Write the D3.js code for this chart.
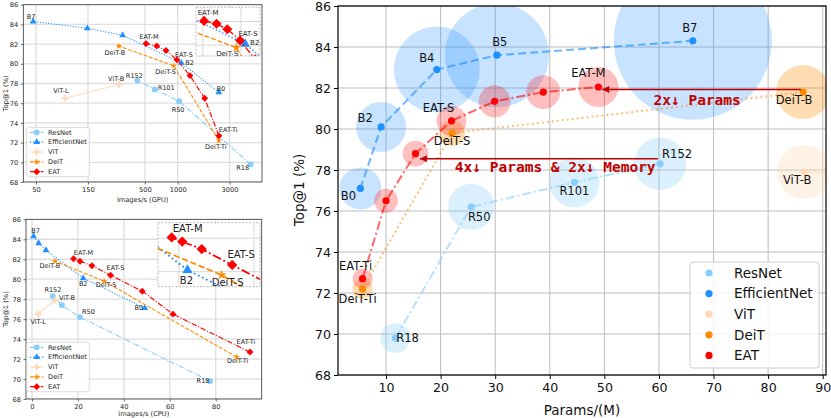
<!DOCTYPE html>
<html>
<head>
<meta charset="utf-8">
<script src="https://cdn.jsdelivr.net/npm/d3@7"></script>
<style>
  body { margin: 0; background: #fff; }
  svg { display: block; font-family: "DejaVu Sans", sans-serif; }
</style>
</head>
<body>
<svg id="chart" width="831" height="418"></svg>
<script>
// ---- data ----
const familyNames = ["ResNet", "EfficientNet", "ViT", "DeiT", "EAT"];

const resnetModels = ["R18", "R50", "R101", "R152"];
const resnetParams = [11.7, 25.6, 44.5, 60.2];
const resnetGpu = [4680, 1030, 615, 426];
const resnetCpu = [77.5, 20.9, 13.0, 9.1];
const resnetTop1 = [69.8, 76.2, 77.4, 78.3];
const resnetBubble = [3.5, 8.3, 9.8, 10.6];

const effnetModels = ["B0", "B2", "B4", "B5", "B7"];
const effnetParams = [5.3, 9.1, 19.3, 30.3, 66.2];
const effnetGpu = [2390, 1079, 312, 148, 47];
const effnetCpu = [49.1, 22.3, 6.1, 2.9, 0.7];
const effnetTop1 = [77.1, 80.1, 82.9, 83.6, 84.3];
const effnetBubble = [6.9, 9.8, 28.9, 42.3, 97.5];

const vitModels = ["ViT-B", "ViT-L"];
const vitParams = [86.6, 304];
const vitGpu = [290, 92];
const vitCpu = [10.0, 2.7];
const vitTop1 = [77.9, 76.5];
const vitBubble = [11.4, 40];

const deitModels = ["DeiT-Ti", "DeiT-S", "DeiT-B"];
const deitParams = [5.7, 22.1, 86.4];
const deitGpu = [2390, 919, 288];
const deitCpu = [89.1, 31.4, 10.0];
const deitTop1 = [72.2, 79.8, 81.8];
const deitBubble = [1.6, 2.6, 11.4];

const eatModels = ["EAT-Ti", "", "", "EAT-S", "", "", "EAT-M"];
const eatParams = [5.7, 10.0, 15.4, 22.0, 29.9, 38.8, 48.9];
const eatGpu = [2390, 1770, 1297, 985, 781, 642, 512];
const eatCpu = [94.9, 61.4, 48.0, 34.2, 26.1, 20.9, 18.1];
const eatTop1 = [72.7, 76.5, 78.8, 80.4, 81.35, 81.8, 82.05];
const eatBubble = [1.6, 2.25, 2.6, 3.5, 4.0, 4.5, 6.25];

const gpuTicks = [50, 150, 500, 1000, 3000];
const cpuTicks = [0, 20, 40, 60, 80];
const top1Ticks = [68, 70, 72, 74, 76, 78, 80, 82, 84, 86];
const paramTicks = [10, 20, 30, 40, 50, 60, 70, 80, 90];

// annotation arrows (data units): [x from, x to, y]
const arrowParams = [86.0, 49.6, 81.93];
const arrowMemory = [59.8, 16.2, 78.55];
const noteParams = "2x↓ Params";
const noteMemory = "4x↓ Params & 2x↓ Memory";

function buildFamily(name, models, params, gpu, cpu, top1, bubble) {
  return {
    name,
    points: models.map((m, i) => ({
      name: m, params: params[i], gpu: gpu[i], cpu: cpu[i], top1: top1[i], bubble: bubble[i]
    }))
  };
}

const families = [
  buildFamily(familyNames[0], resnetModels, resnetParams, resnetGpu, resnetCpu, resnetTop1, resnetBubble),
  buildFamily(familyNames[1], effnetModels, effnetParams, effnetGpu, effnetCpu, effnetTop1, effnetBubble),
  buildFamily(familyNames[2], vitModels, vitParams, vitGpu, vitCpu, vitTop1, vitBubble),
  buildFamily(familyNames[3], deitModels, deitParams, deitGpu, deitCpu, deitTop1, deitBubble),
  buildFamily(familyNames[4], eatModels, eatParams, eatGpu, eatCpu, eatTop1, eatBubble)
];

// ---- styles ----
const colors = {
  ResNet: "#87CEFA", EfficientNet: "#1E90FF", ViT: "#FFDAB9", DeiT: "#FF8C00", EAT: "#FF0000"
};
const smallStyle = {
  ResNet: { dash: [5, 1.5, 1, 1.5], symbol: d3.symbolCircle, rot: 0, size: 26 },
  EfficientNet: { dash: [1, 1.5], symbol: d3.symbolTriangle, rot: 0, size: 20 },
  ViT: { dash: null, symbol: d3.symbolCross, rot: 0, size: 24 },
  DeiT: { dash: [3.5, 1.5], symbol: d3.symbolStar, rot: 0, size: 14 },
  EAT: { dash: [5, 1.5, 1, 1.5], symbol: d3.symbolSquare, rot: 45, size: 24 }
};
const bigStyle = {
  ResNet: { dash: "9,3,2,3", alpha: 0.6, bubbleAlpha: 0.3 },
  EfficientNet: { dash: "8,4", alpha: 0.65, bubbleAlpha: 0.25 },
  ViT: { dash: null, alpha: 0.6, bubbleAlpha: 0.35 },
  DeiT: { dash: "2,3", alpha: 0.55, bubbleAlpha: 0.3 },
  EAT: { dash: "9,3,2,3", alpha: 0.6, bubbleAlpha: 0.25 }
};

const svg = d3.select("#chart");
const defs = svg.append("defs");

// ---- small line panels (GPU / CPU throughput) ----
function drawSmallPanel(o) {
  const [x0, x1] = o.x.range();
  const [y1, y0] = o.y.range();
  const g = svg.append("g");

  defs.append("clipPath").attr("id", o.id)
    .append("rect").attr("x", x0).attr("y", y0).attr("width", x1 - x0).attr("height", y1 - y0);

  g.append("rect").attr("x", x0).attr("y", y0).attr("width", x1 - x0).attr("height", y1 - y0)
    .attr("fill", "#fff");

  const grid = g.append("g").attr("clip-path", `url(#${o.id})`);
  o.gridX.forEach(t => {
    grid.append("line").attr("x1", o.x(t)).attr("x2", o.x(t)).attr("y1", y0).attr("y2", y1)
      .attr("stroke", o.gridColor).attr("stroke-width", o.gridWidth);
  });
  o.gridY.forEach(t => {
    grid.append("line").attr("x1", x0).attr("x2", x1).attr("y1", o.y(t)).attr("y2", o.y(t))
      .attr("stroke", o.gridColor).attr("stroke-width", o.gridWidth);
  });

  const plot = g.append("g").attr("clip-path", `url(#${o.id})`);
  families.forEach(f => {
    const st = smallStyle[f.name];
    const line = d3.line().x(d => o.x(d[o.key])).y(d => o.y(d.top1));
    plot.append("path").datum(f.points)
      .attr("fill", "none")
      .attr("stroke", colors[f.name])
      .attr("stroke-width", o.lw)
      .attr("stroke-dasharray", st.dash ? st.dash.map(v => v * o.lw).join(",") : null)
      .attr("d", line);
    plot.selectAll(null).data(f.points).enter().append("path")
      .attr("transform", d => `translate(${o.x(d[o.key])},${o.y(d.top1)}) rotate(${st.rot})`)
      .attr("d", d3.symbol(st.symbol, st.size * o.ms))
      .attr("fill", colors[f.name]);
  });

  const labels = g.append("g").style("font-size", o.fs + "px").attr("fill", "#222");
  families.forEach(f => {
    f.points.forEach(d => {
      const p = o.labelPos[d.name];
      if (!p) return;
      labels.append("text")
        .attr("x", o.x(d[o.key]) + p[0])
        .attr("y", o.y(d.top1) + p[1])
        .attr("dy", "0.35em")
        .attr("text-anchor", p[2] || "middle")
        .text(d.name);
    });
  });

  g.append("rect").attr("x", x0).attr("y", y0).attr("width", x1 - x0).attr("height", y1 - y0)
    .attr("fill", "none").attr("stroke", o.frameColor).attr("stroke-width", o.frameWidth)
    .attr("stroke-dasharray", o.frameDash);
  return g;
}

function drawSmallAxes(o) {
  const [x0, x1] = o.x.range();
  const [y1, y0] = o.y.range();
  const ax = svg.append("g").attr("transform", `translate(0,${y1})`)
    .call(d3.axisBottom(o.x).tickValues(o.ticksX).tickFormat(d3.format("d")).tickSize(2.5).tickPadding(2.5));
  const ay = svg.append("g").attr("transform", `translate(${x0},0)`)
    .call(d3.axisLeft(o.y).tickValues(top1Ticks).tickSize(2.5).tickPadding(2.5));
  [ax, ay].forEach(a => {
    a.select(".domain").remove();
    a.selectAll("text").style("font-size", "6.7px").style("font-family", "DejaVu Sans").attr("fill", "#222");
    a.selectAll("line").attr("stroke", "#333").attr("stroke-width", 0.7);
  });
  svg.append("text").attr("x", (x0 + x1) / 2).attr("y", y1 + o.labelGap).attr("text-anchor", "middle")
    .style("font-size", "6.7px").attr("fill", "#222").text(o.xLabel);
  svg.append("text").attr("transform", `translate(6,${(y0 + y1) / 2}) rotate(-90)`)
    .attr("text-anchor", "middle").attr("dy", "0.35em")
    .style("font-size", "6.7px").attr("fill", "#222").text("Top@1 (%)");
}

function drawSmallLegend(x, y) {
  const g = svg.append("g");
  g.append("rect").attr("x", x).attr("y", y).attr("width", 62.6).attr("height", 49.4).attr("rx", 2)
    .attr("fill", "#fff").attr("fill-opacity", 0.85).attr("stroke", "#ccc").attr("stroke-width", 0.7);
  families.forEach((f, i) => {
    const st = smallStyle[f.name];
    const yy = y + 5 + i * 9.85;
    g.append("line").attr("x1", x + 3.3).attr("x2", x + 16.6).attr("y1", yy).attr("y2", yy)
      .attr("stroke", colors[f.name]).attr("stroke-width", 1.2)
      .attr("stroke-dasharray", st.dash ? st.dash.map(v => v * 1.2).join(",") : null);
    g.append("path").attr("transform", `translate(${x + 10},${yy}) rotate(${st.rot})`)
      .attr("d", d3.symbol(st.symbol, st.size)).attr("fill", colors[f.name]);
    g.append("text").attr("x", x + 21.3).attr("y", yy).attr("dy", "0.35em")
      .style("font-size", "6.7px").attr("fill", "#222").text(f.name);
  });
}

// GPU panel
const gpuX = d3.scaleLog().domain([38.2, 5950]).range([23.3, 262]);
const gpuY = d3.scaleLinear().domain([68, 86]).range([182, 4.7]);
const gpuLabels = {
  B7: [-2, -5], "EAT-M": [3, -7], "DeiT-B": [-4, 7], "EAT-S": [7, -5], B2: [4, 0, "start"],
  "DeiT-S": [-8, 6], "ViT-B": [-3, -6], R152: [-3, -5], "ViT-L": [-4, -8], R101: [3, -2, "start"],
  B0: [2, -4], R50: [-1, 8], "EAT-Ti": [0, -6, "start"], "DeiT-Ti": [-3, 6], R18: [-8, 3]
};
drawSmallPanel({
  id: "clipGpu", x: gpuX, y: gpuY, key: "gpu", lw: 1.1, ms: 1, fs: 6.5, labelPos: gpuLabels,
  gridX: gpuTicks, gridY: top1Ticks, gridColor: "#dedede", gridWidth: 1.3,
  frameColor: "#333", frameWidth: 0.8, frameDash: null
});
drawSmallAxes({ x: gpuX, y: gpuY, ticksX: gpuTicks, xLabel: "images/s (GPU)", labelGap: 19.5 });
drawSmallLegend(26.7, 127.3);

// GPU zoom inset
drawSmallPanel({
  id: "clipGpuIn", x: d3.scaleLog().domain([442, 1415]).range([196, 260]),
  y: d3.scaleLinear().domain([79.08, 83.2]).range([56, 7.3]),
  key: "gpu", lw: 1.4, ms: 2.1, fs: 7,
  labelPos: { "EAT-M": [4, -8], "EAT-S": [8, -7], B2: [5, -1, "start"], "DeiT-S": [-9, 6] },
  gridX: [500, 1000], gridY: [80, 82], gridColor: "#d8d8d8", gridWidth: 1,
  frameColor: "#aaa", frameWidth: 0.8, frameDash: "2,1.5"
});

// CPU panel
const cpuX = d3.scaleLinear().domain([-2.6, 100]).range([26, 261.7]);
const cpuY = d3.scaleLinear().domain([68, 86]).range([399, 219.3]);
const cpuLabels = {
  B7: [2, -6], "DeiT-B": [-5, 4], "EAT-M": [10, -6], "EAT-S": [5, -7], B2: [0, 6],
  "DeiT-S": [2, 4], R152: [0, -6], "ViT-B": [4, -2, "start"], B0: [-6, 0], R50: [2, -5, "start"],
  "ViT-L": [0, 8], "DeiT-Ti": [1, 4], "EAT-Ti": [-4, -10], R18: [-7, 0]
};
drawSmallPanel({
  id: "clipCpu", x: cpuX, y: cpuY, key: "cpu", lw: 1.1, ms: 1, fs: 6.5, labelPos: cpuLabels,
  gridX: cpuTicks, gridY: top1Ticks, gridColor: "#dedede", gridWidth: 1.3,
  frameColor: "#333", frameWidth: 0.8, frameDash: null
});
drawSmallAxes({ x: cpuX, y: cpuY, ticksX: cpuTicks, xLabel: "images/s (CPU)", labelGap: 16.6 });
drawSmallLegend(26.7, 342.3);

// CPU zoom inset
drawSmallPanel({
  id: "clipCpuIn", x: d3.scaleLinear().domain([14.46, 41.6]).range([158, 260]),
  y: d3.scaleLinear().domain([79.1, 82.93]).range([286.7, 222.7]),
  key: "cpu", lw: 1.8, ms: 2.2, fs: 10,
  labelPos: { "EAT-M": [16, -9], "EAT-S": [9, -10], B2: [-1, 11], "DeiT-S": [6, 7] },
  gridX: [20, 40], gridY: [80, 82], gridColor: "#d8d8d8", gridWidth: 1,
  frameColor: "#aaa", frameWidth: 0.8, frameDash: "2,1.5"
});

// ---- right bubble panel (params) ----
const px = d3.scaleLinear().domain([1.2, 90.6]).range([338, 826]);
const py = d3.scaleLinear().domain([68, 86]).range([375, 6]);
const rScale = d3.scaleSqrt().domain([0, 100]).range([0, 80]);

defs.append("clipPath").attr("id", "clipBig")
  .append("rect").attr("x", 338).attr("y", 6).attr("width", 488).attr("height", 369);

const big = svg.append("g");
const bigGrid = big.append("g");
paramTicks.forEach(t => {
  bigGrid.append("line").attr("x1", px(t)).attr("x2", px(t)).attr("y1", 6).attr("y2", 375)
    .attr("stroke", "#bdbdbd").attr("stroke-width", 1);
});
top1Ticks.forEach(t => {
  bigGrid.append("line").attr("x1", 338).attr("x2", 826).attr("y1", py(t)).attr("y2", py(t))
    .attr("stroke", "#bdbdbd").attr("stroke-width", 1);
});

const bigPlot = big.append("g").attr("clip-path", "url(#clipBig)");
families.forEach(f => {
  bigPlot.selectAll(null).data(f.points).enter().append("circle")
    .attr("cx", d => px(d.params)).attr("cy", d => py(d.top1)).attr("r", d => rScale(d.bubble))
    .attr("fill", colors[f.name]).attr("fill-opacity", bigStyle[f.name].bubbleAlpha);
});
families.forEach(f => {
  const st = bigStyle[f.name];
  bigPlot.append("path").datum(f.points)
    .attr("fill", "none").attr("stroke", colors[f.name]).attr("stroke-opacity", st.alpha)
    .attr("stroke-width", 2).attr("stroke-dasharray", st.dash)
    .attr("d", d3.line().x(d => px(d.params)).y(d => py(d.top1)));
});
families.forEach(f => {
  bigPlot.selectAll(null).data(f.points).enter().append("circle")
    .attr("cx", d => px(d.params)).attr("cy", d => py(d.top1)).attr("r", 3.6)
    .attr("fill", colors[f.name]);
});

const bigLabels = {
  B7: [-3, -13], B5: [3, -13], B4: [-10, -12], B2: [-16, -9], B0: [-12, 8],
  "EAT-S": [-13, -13], "DeiT-S": [0, 8], "EAT-M": [-10, -14], "DeiT-B": [-9, 8],
  R152: [17, -10], R101: [0, 9], "ViT-B": [-7, 8], R50: [8, 10], "EAT-Ti": [-7, -13],
  "DeiT-Ti": [-5, 10], R18: [1, 0, "start"]
};
const bigText = big.append("g").style("font-size", "11.5px").attr("fill", "#111");
families.forEach(f => {
  f.points.forEach(d => {
    const p = bigLabels[d.name];
    if (!p) return;
    bigText.append("text")
      .attr("x", px(d.params) + p[0]).attr("y", py(d.top1) + p[1]).attr("dy", "0.35em")
      .attr("text-anchor", p[2] || "middle").text(d.name);
  });
});

// arrows + notes
const noteColor = "#c00000";
defs.append("marker").attr("id", "arrowHead").attr("viewBox", "0 0 10 10")
  .attr("refX", 10).attr("refY", 5).attr("markerUnits", "userSpaceOnUse")
  .attr("markerWidth", 9).attr("markerHeight", 7).attr("orient", "auto")
  .append("path").attr("d", "M0,0 L10,5 L0,10 z").attr("fill", noteColor);

[arrowParams, arrowMemory].forEach(a => {
  big.append("line")
    .attr("x1", px(a[0])).attr("x2", px(a[1])).attr("y1", py(a[2])).attr("y2", py(a[2]))
    .attr("stroke", noteColor).attr("stroke-width", 1.5).attr("marker-end", "url(#arrowHead)");
});
big.append("text").attr("x", px(59.0)).attr("y", py(81.15))
  .style("font-family", "'DejaVu Sans Mono', monospace").style("font-weight", "bold")
  .style("font-size", "14.5px").attr("fill", noteColor).text(noteParams);
big.append("text").attr("x", px(22.6)).attr("y", py(77.9))
  .style("font-family", "'DejaVu Sans Mono', monospace").style("font-weight", "bold")
  .style("font-size", "14.5px").attr("fill", noteColor).text(noteMemory);

// frame & axes
big.append("rect").attr("x", 338).attr("y", 6).attr("width", 488).attr("height", 369)
  .attr("fill", "none").attr("stroke", "#000").attr("stroke-width", 1.2);
const bx = svg.append("g").attr("transform", "translate(0,375)")
  .call(d3.axisBottom(px).tickValues(paramTicks).tickSize(4).tickPadding(4));
const by = svg.append("g").attr("transform", "translate(338,0)")
  .call(d3.axisLeft(py).tickValues(top1Ticks).tickSize(4).tickPadding(3));
[bx, by].forEach(a => {
  a.select(".domain").remove();
  a.selectAll("text").style("font-size", "12.6px").style("font-family", "DejaVu Sans").attr("fill", "#111");
  a.selectAll("line").attr("stroke", "#000");
});
svg.append("text").attr("x", 582).attr("y", 415).attr("text-anchor", "middle")
  .style("font-size", "13.5px").attr("fill", "#111").text("Params/(M)");
svg.append("text").attr("transform", "translate(299,190) rotate(-90)").attr("text-anchor", "middle")
  .attr("dy", "0.35em").style("font-size", "13.5px").attr("fill", "#111").text("Top@1 (%)");

// legend
const lg = svg.append("g");
lg.append("rect").attr("x", 690).attr("y", 262).attr("width", 129).attr("height", 106).attr("rx", 3)
  .attr("fill", "#fff").attr("fill-opacity", 0.8).attr("stroke", "#ccc");
families.forEach((f, i) => {
  const yy = 273 + i * 20.6;
  lg.append("circle").attr("cx", 709).attr("cy", yy).attr("r", 3.6).attr("fill", colors[f.name]);
  lg.append("text").attr("x", 734).attr("y", yy).attr("dy", "0.35em")
    .style("font-size", "13.5px").attr("fill", "#111").text(f.name);
});
</script>
</body>
</html>
